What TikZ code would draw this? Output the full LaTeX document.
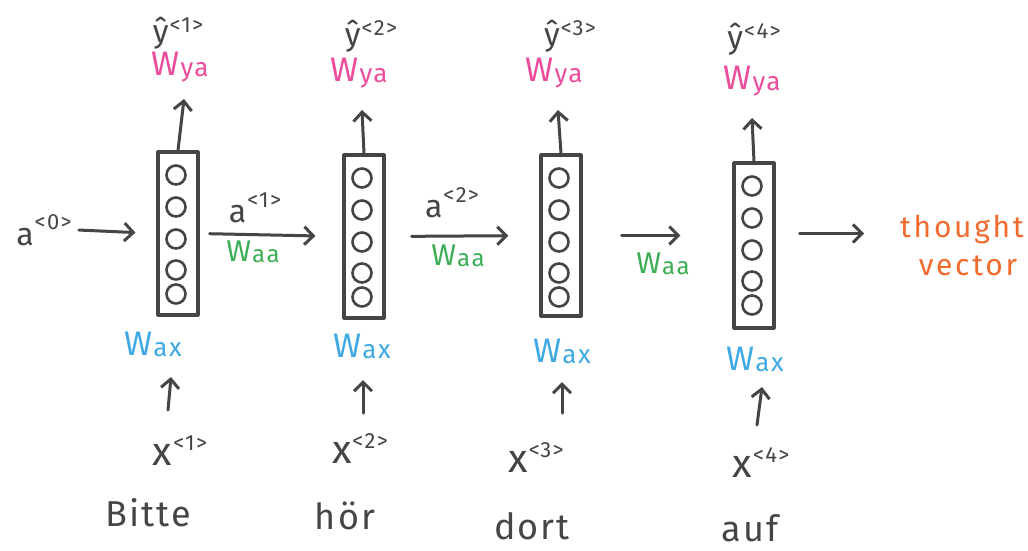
\documentclass[tikz,border=0pt]{standalone}
\usepackage{fontspec}
\setmainfont{Fira Sans}[LetterSpace=6]
\usetikzlibrary{arrows.meta}

\definecolor{ink}{HTML}{454545}
\definecolor{wyacol}{HTML}{EC4C9C}
\definecolor{waxcol}{HTML}{3FA9E3}
\definecolor{waacol}{HTML}{3DAE55}
\definecolor{tvcol}{HTML}{F26B2E}

% weight matrix label: big W with a lowered small index
\newcommand{\wmat}[2][26pt]{W\kern1pt\raisebox{-1pt}{\fontsize{#1}{#1}\selectfont #2}}
% time-step superscript like <1>, raised by the optional amount
\newcommand{\tstep}[2][15pt]{\kern1pt\raisebox{#1}{\fontsize{22}{22}\selectfont <#2>}}

\tikzset{
  stroke/.style={draw=ink, line width=3pt, line cap=round, line join=round},
  arr/.style={stroke, -{Straight Barb[length=9pt,width=18pt]}},
  cellbox/.style={stroke, rectangle, line width=3.2pt, minimum width=40pt, inner sep=0pt},
  unit/.style={circle, draw=ink, line width=2.6pt, minimum size=19pt, inner sep=0pt},
  txt/.style={inner sep=0pt, anchor=base},
  symb/.style={txt, text=ink, font=\fontsize{32}{32}\selectfont},
  yhat/.style={txt, text=ink, font=\fontsize{32}{32}\selectfont},
  xin/.style={txt, text=ink, font=\fontsize{40}{40}\selectfont},
  word/.style={txt, text=ink, font=\fontsize{36}{36}\selectfont},
  wya/.style={txt, text=wyacol, font=\fontsize{34}{34}\selectfont},
  wax/.style={txt, text=waxcol, font=\fontsize{34}{34}\selectfont},
  waa/.style={txt, text=waacol, font=\fontsize{30}{30}\selectfont},
  tvec/.style={txt, text=tvcol, font=\fontsize{30}{30}\selectfont\addfontfeature{LetterSpace=9}},
}

\begin{document}
\begin{tikzpicture}[x=1pt,y=-1pt]
\useasboundingbox (0,0) rectangle (1028,550);

% the four recurrent cells with their hidden units
\foreach \n/\x/\t/\b in {1/178/152/315, 2/364/155/318, 3/561/155/316, 4/754/163/328}{
  \pgfmathsetmacro{\cy}{(\t+\b)/2}
  \pgfmathsetmacro{\h}{\b-\t}
  \node[cellbox, minimum height=\h pt] (cell\n) at (\x,\cy) {};
  \foreach \k/\dy in {1/23, 2/55, 3/87, 4/118, 5/142}{
    \node[unit] (cell\n-u\k) at (\x-2,\t+\dy) {};
  }
}

% outputs
\node[wya]  (wya1) at (180,75) {\wmat{ya}};
\node[wya]  (wya2) at (359,81) {\wmat{ya}};
\node[wya]  (wya3) at (554,81) {\wmat{ya}};
\node[wya]  (wya4) at (752,89) {\wmat{ya}};
\node[yhat] (y1) at (178,42) {ŷ\tstep[10pt]{1}};
\node[yhat] (y2) at (371,45) {ŷ\tstep[10pt]{2}};
\node[yhat] (y3) at (570,45) {ŷ\tstep[10pt]{3}};
\node[yhat] (y4) at (754,48) {ŷ\tstep[10pt]{4}};
\coordinate (out1) at (184,99);
\coordinate (out2) at (362,110);
\coordinate (out3) at (558,110);
\coordinate (out4) at (752,118);
\foreach \n in {1,...,4}{ \draw[arr] (cell\n.north) -- (out\n); }

% inputs
\node[wax] (wax1) at (153,355) {\wmat{ax}};
\node[wax] (wax2) at (362,357) {\wmat{ax}};
\node[wax] (wax3) at (562,362) {\wmat{ax}};
\node[wax] (wax4) at (755,370) {\wmat{ax}};
\node[xin] (x1) at (180,465) {x\tstep{1}};
\node[xin] (x2) at (360,463) {x\tstep{2}};
\node[xin] (x3) at (536,472) {x\tstep{3}};
\node[xin] (x4) at (761,477) {x\tstep{4}};
\node[word] (w1) at (148,526) {Bitte};
\node[word] (w2) at (345,529) {hör};
\node[word] (w3) at (532,539) {dort};
\node[word] (w4) at (750,541) {auf};
\coordinate (inT1) at (168,410); \coordinate (inH1) at (171,377);
\coordinate (inT2) at (363,413); \coordinate (inH2) at (363,380);
\coordinate (inT3) at (562,413); \coordinate (inH3) at (562,382);
\coordinate (inT4) at (757,425); \coordinate (inH4) at (762,387);
\foreach \n in {1,...,4}{ \draw[arr] (inT\n) -- (inH\n); }

% hidden state passed along the sequence
\node[symb] (a0) at (44,245) {a\tstep[16pt]{0}};
\draw[arr, shorten <=7pt, shorten >=21pt] (a0.east) -- (cell1.west);

\draw[arr, shorten <=10pt, shorten >=27pt] (cell1.east) -- (cell2.west);
\node[symb] (a1) at (255,222) {a\tstep[15pt]{1}};
\node[waa]  (waa1) at (253,261) {\wmat[24pt]{aa}};

\draw[arr, shorten <=26pt, shorten >=31pt] (cell2.east) -- (cell3.west);
\node[symb] (a2) at (452,217) {a\tstep[15pt]{2}};
\node[waa]  (waa2) at (458,265) {\wmat[24pt]{aa}};

\draw[arr, shorten <=39pt, shorten >=52pt] (cell3.east) -- (cell3.east -| cell4.west);
\node[waa]  (waa3) at (663,273) {\wmat[24pt]{aa}};

% final encoding
\node[tvec] (tv1) at (962,237) {thought};
\node[tvec] (tv2) at (968,275) {vector};
\draw[arr, shorten <=24pt, shorten >=36pt] ([yshift=12pt]cell4.east) -- ([yshift=12pt]cell4.east -| tv1.west);
\end{tikzpicture}
\end{document}
